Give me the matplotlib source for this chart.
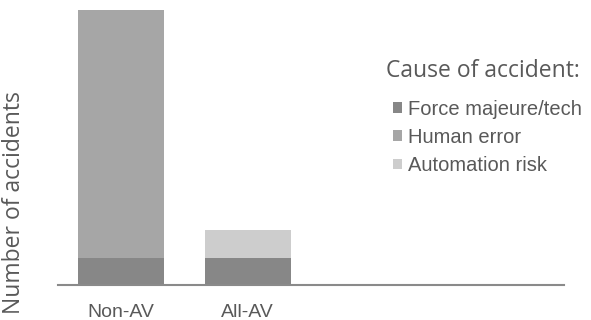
import numpy as np
import matplotlib.pyplot as plt

categories = ['Non-AV', 'All-AV']
force_majeure = [27, 27]
human_error = [248, 0]
automation_risk = [0, 28]

colors = ['#878787', '#a6a6a6', '#cdcdcd']
labels = ['Force majeure/tech', 'Human error', 'Automation risk']
txt = '#595959'

fig = plt.figure(figsize=(5.91, 3.20), dpi=100)
ax = fig.add_axes([58/591, 1-285/320, (564-58)/591, 275/320])

x = np.arange(len(categories))
w = 0.68
b1 = ax.bar(x, force_majeure, w, color=colors[0], label=labels[0])
b2 = ax.bar(x, human_error, w, bottom=force_majeure, color=colors[1], label=labels[1])
bottom2 = np.array(force_majeure) + np.array(human_error)
b3 = ax.bar(x, automation_risk, w, bottom=bottom2, color=colors[2], label=labels[2])

ax.set_xlim(-0.5, 3.5)
ax.set_ylim(0, 275)
ax.set_xticks(x)
ax.set_xticklabels(categories, fontsize=14, color=txt, family='Liberation Sans')
ax.tick_params(axis='x', length=0, pad=14)
ax.set_yticks([])
for s in ['top', 'right', 'left']:
    ax.spines[s].set_visible(False)
ax.spines['bottom'].set_color('#8a8a8a')
ax.spines['bottom'].set_linewidth(1.5)

ax.set_ylabel('Number of accidents', fontsize=16.5, color=txt, family='Open Sans')
ax.yaxis.set_label_coords((26-58)/506, (285-203)/275)

# legend title placed separately
fig.text(386/591, 1-71/320, 'Cause of accident:', fontsize=16.5, color=txt,
         family='Open Sans', va='center', ha='left')

leg = ax.legend(handles=[b1, b2, b3], loc='upper left',
                bbox_to_anchor=(393/591, 1-100/320), bbox_transform=fig.transFigure,
                frameon=False, borderpad=0, borderaxespad=0,
                prop={'family': 'Liberation Sans', 'size': 14.5},
                handlelength=0.45, handleheight=0.45, handletextpad=0.3,
                labelspacing=0.45)
for t in leg.get_texts():
    t.set_color(txt)

fig.savefig('out.png', dpi=100)
